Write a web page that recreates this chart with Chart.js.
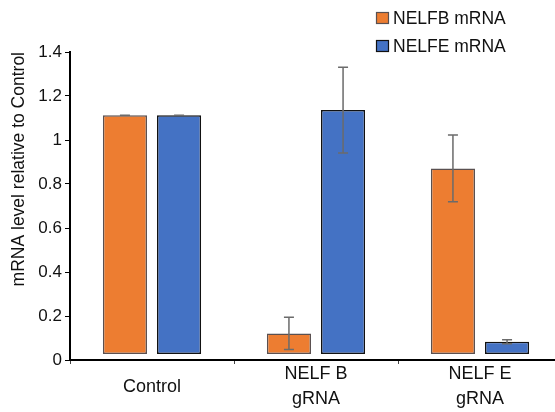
<!DOCTYPE html>
<html>
<head>
<meta charset="utf-8">
<script src="https://cdn.jsdelivr.net/npm/chart.js@4.4.1/dist/chart.umd.min.js"></script>
<style>
    html, body { margin: 0; padding: 0; background: #fff; overflow: hidden; }
    #wrap { width: 562px; height: 412px; }
</style>
</head>
<body>
<div id="wrap"><canvas id="mrna_chart"></canvas></div>
<script>
// values
const categories = ['Control', ['NELF B', 'gRNA'], ['NELF E', 'gRNA']];
const nelfbValues = [1.112, 0.121, 0.871];
const nelfeValues = [1.112, 1.136, 0.083];
const nelfbErrors = [0, 0.073, 0.152];
const nelfeErrors = [0, 0.195, 0.009];
const barBase = 0.027;
const yTicks = [0, 0.2, 0.4, 0.6, 0.8, 1, 1.2, 1.4];

const fontFamily = "'Liberation Sans', Arial, sans-serif";

// error bars drawn through the chart scales
const errorBars = {
    id: 'errorBars',
    afterDatasetsDraw(chart) {
        const ctx = chart.ctx;
        const yScale = chart.scales.y;
        chart.data.datasets.forEach(function (ds, i) {
            const meta = chart.getDatasetMeta(i);
            meta.data.forEach(function (bar, j) {
                const v = ds.data[j];
                const e = ds.errors[j];
                const top = yScale.getPixelForValue(v + e);
                const bottom = yScale.getPixelForValue(v - e);
                ctx.save();
                ctx.strokeStyle = '#6b6b6b';
                ctx.lineWidth = 1.5;
                ctx.beginPath();
                ctx.moveTo(bar.x, top);
                ctx.lineTo(bar.x, bottom);
                ctx.moveTo(bar.x - 5, top);
                ctx.lineTo(bar.x + 5, top);
                ctx.moveTo(bar.x - 5, bottom);
                ctx.lineTo(bar.x + 5, bottom);
                ctx.stroke();
                ctx.restore();
            });
        });
    }
};

// stacked legend in the top right corner
const stackedLegend = {
    id: 'stackedLegend',
    afterDraw(chart) {
        const ctx = chart.ctx;
        ctx.save();
        ctx.font = '17.5px ' + fontFamily;
        ctx.textBaseline = 'middle';
        chart.data.datasets.forEach(function (ds, i) {
            const y = 12 + i * 28;
            ctx.fillStyle = ds.backgroundColor;
            ctx.fillRect(376, y, 13, 12);
            ctx.strokeStyle = ds.borderColor;
            ctx.lineWidth = 1.2;
            ctx.strokeRect(376.5, y + 0.5, 12, 11);
            ctx.fillStyle = '#111';
            ctx.fillText(ds.label, 393, y + 7);
        });
        ctx.restore();
    }
};

const ctxRating = document.getElementById('mrna_chart').getContext('2d');

new Chart(ctxRating, {
    type: 'bar',
    data: {
        labels: categories,
        datasets: [{
            label: 'NELFB mRNA',
            data: nelfbValues,
            errors: nelfbErrors,
            base: barBase,
            backgroundColor: '#ED7D31',
            borderColor: '#5a5050',
            borderWidth: 1.5,
            borderSkipped: false
        }, {
            label: 'NELFE mRNA',
            data: nelfeValues,
            errors: nelfeErrors,
            base: barBase,
            backgroundColor: '#4472C4',
            borderColor: '#111',
            borderWidth: 1.5,
            borderSkipped: false
        }]
    },
    options: {
        responsive: true,
        maintainAspectRatio: false,
        animation: false,
        categoryPercentage: 0.66,
        barPercentage: 0.815,
        layout: { padding: { top: 52, right: 0, left: 0, bottom: 0 } },
        scales: {
            x: {
                afterFit: function (s) { s.height = 52; },
                grid: {
                    drawOnChartArea: false,
                    offset: true,
                    tickLength: 4,
                    color: '#444'
                },
                border: { color: '#000', width: 2 },
                ticks: {
                    color: '#111',
                    padding: 10,
                    crossAlign: 'center',
                    font: { family: fontFamily, size: 18, lineHeight: 1.4 }
                }
            },
            y: {
                min: 0,
                max: 1.4,
                afterFit: function (s) { s.width = 70; },
                afterBuildTicks: function (s) {
                    s.ticks = yTicks.map(function (v) { return { value: v }; });
                },
                grid: {
                    drawOnChartArea: false,
                    tickLength: 5,
                    color: '#000'
                },
                border: { color: '#000', width: 2 },
                ticks: {
                    color: '#111',
                    padding: 3,
                    font: { family: fontFamily, size: 17 },
                    callback: function (v) { return String(v); }
                },
                title: {
                    display: true,
                    text: 'mRNA level relative to Control',
                    align: 'end',
                    color: '#111',
                    padding: { top: 9, bottom: 2 },
                    font: { family: fontFamily, size: 17.5 }
                }
            }
        },
        plugins: {
            legend: { display: false },
            tooltip: { enabled: false }
        }
    },
    plugins: [errorBars, stackedLegend]
});
</script>
</body>
</html>
